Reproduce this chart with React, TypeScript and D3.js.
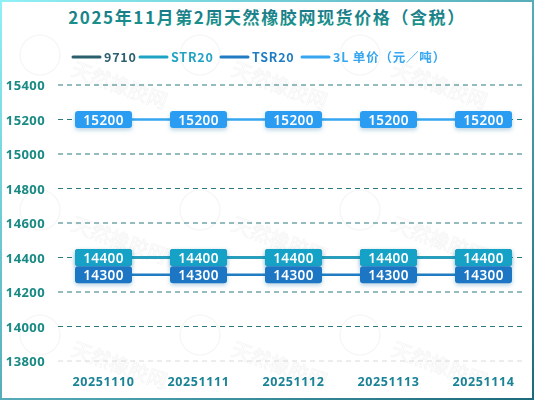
import { useEffect, useRef } from "react";
import * as d3 from "d3";

const dates = ["20251110", "20251111", "20251112", "20251113", "20251114"];
const s9710 = [14400, 14400, 14400, 14400, 14400];
const sStr20 = [14400, 14400, 14400, 14400, 14400];
const sTsr20 = [14300, 14300, 14300, 14300, 14300];
const s3L = [15200, 15200, 15200, 15200, 15200];
const yTicks = [13800, 14000, 14200, 14400, 14600, 14800, 15000, 15200, 15400];

const series = [
  { name: "9710", values: s9710, color: "#2b5f6e", box: "#2b6f80" },
  { name: "STR20", values: sStr20, color: "#1fa3c4", box: "#16a2c6" },
  { name: "TSR20", values: sTsr20, color: "#1f7cc2", box: "#1a76c4" },
  { name: "3L 单价（元／吨）", values: s3L, color: "#35a6ef", box: "#2a9cf2" },
];

export default function App() {
  const svgRef = useRef<SVGSVGElement | null>(null);
  const width = 534;
  const height = 400;

  useEffect(() => {
    document.body.style.margin = "0";
    if (!svgRef.current) return;
    const svg = d3.select(svgRef.current);
    svg.selectAll("*").remove();

    const defs = svg.append("defs");
    const border = defs
      .append("linearGradient")
      .attr("id", "border")
      .attr("x1", "0")
      .attr("y1", "0")
      .attr("x2", "1")
      .attr("y2", "1");
    border.append("stop").attr("offset", "0%").attr("stop-color", "#8ff0f5");
    border.append("stop").attr("offset", "100%").attr("stop-color", "#1d6a7c");

    const titleGrad = defs
      .append("linearGradient")
      .attr("id", "titleGrad")
      .attr("x1", "0")
      .attr("y1", "0")
      .attr("x2", "0")
      .attr("y2", "1");
    titleGrad.append("stop").attr("offset", "0%").attr("stop-color", "#1a6f86");
    titleGrad.append("stop").attr("offset", "100%").attr("stop-color", "#1a9a8e");

    const shadow = defs
      .append("filter")
      .attr("id", "shadow")
      .attr("x", "-30%")
      .attr("y", "-30%")
      .attr("width", "160%")
      .attr("height", "180%");
    shadow
      .append("feDropShadow")
      .attr("dx", 0)
      .attr("dy", 2)
      .attr("stdDeviation", 2)
      .attr("flood-color", "#1a6fa0")
      .attr("flood-opacity", 0.3);

    svg
      .append("rect")
      .attr("width", width)
      .attr("height", height)
      .attr("fill", "#ffffff");
    svg
      .append("rect")
      .attr("x", 1)
      .attr("y", 1)
      .attr("width", width - 2)
      .attr("height", height - 2)
      .attr("fill", "none")
      .attr("stroke", "url(#border)")
      .attr("stroke-width", 2);

    // faint watermark
    const wm = svg.append("g").attr("opacity", 0.06);
    [
      [60, 75],
      [220, 75],
      [380, 75],
      [60, 230],
      [220, 230],
      [380, 230],
      [60, 355],
      [220, 355],
      [380, 355],
    ].forEach(([x, y]) => {
      wm.append("circle")
        .attr("cx", x - 20)
        .attr("cy", y - 20)
        .attr("r", 20)
        .attr("fill", "none")
        .attr("stroke", "#555")
        .attr("stroke-width", 1.2);
      wm.append("text")
        .attr("x", x + 10)
        .attr("y", y)
        .attr("transform", `rotate(20,${x + 10},${y})`)
        .attr("font-family", "Noto Sans CJK SC")
        .attr("font-size", 20)
        .attr("fill", "none")
        .attr("stroke", "#555")
        .attr("stroke-width", 0.8)
        .text("天然橡胶网");
    });

    // title
    svg
      .append("text")
      .attr("x", 267)
      .attr("y", 24)
      .attr("text-anchor", "middle")
      .attr("font-family", "Noto Sans CJK SC")
      .attr("font-weight", 700)
      .attr("font-size", 17)
      .attr("letter-spacing", 1.6)
      .attr("fill", "url(#titleGrad)")
      .text("2025年11月第2周天然橡胶网现货价格（含税）");

    // legend
    const legendX = [73, 140, 221, 302];
    series.forEach((s, i) => {
      const lg = svg.append("g").attr("transform", `translate(${legendX[i]},57)`);
      lg.append("line")
        .attr("x1", 0)
        .attr("x2", 27)
        .attr("stroke", s.color)
        .attr("stroke-width", 3)
        .attr("stroke-linecap", "round");
      lg.append("text")
        .attr("x", 31)
        .attr("y", 4.5)
        .attr("font-family", "Noto Sans CJK SC")
        .attr("font-weight", 700)
        .attr("font-size", 12.5)
        .attr("letter-spacing", 0.8)
        .attr("fill", s.color)
        .text(s.name);
    });

    const x = d3.scaleBand().domain(dates).range([56, 531]);
    const y = d3.scaleLinear().domain([13800, 15400]).range([361, 85]);

    // grid
    const grid = svg.append("g");
    yTicks.forEach((t) => {
      grid
        .append("line")
        .attr("x1", 58)
        .attr("x2", 526)
        .attr("y1", y(t))
        .attr("y2", y(t))
        .attr("stroke", t === 13800 ? "#d8dcdc" : "#2a7a80")
        .attr("stroke-width", 1)
        .attr("stroke-dasharray", "5,4");
    });

    // y axis labels
    svg
      .append("g")
      .selectAll("text")
      .data(yTicks)
      .join("text")
      .attr("x", 45)
      .attr("y", (d) => y(d) + 5)
      .attr("text-anchor", "end")
      .attr("font-family", "Noto Sans")
      .attr("font-weight", 700)
      .attr("font-size", 13)
      .attr("letter-spacing", 0.4)
      .attr("fill", "#1a8a84")
      .text((d) => d);

    // x axis labels
    svg
      .append("g")
      .selectAll("text")
      .data(dates)
      .join("text")
      .attr("x", (d) => x(d)! + x.bandwidth() / 2)
      .attr("y", 386)
      .attr("text-anchor", "middle")
      .attr("font-family", "Noto Sans")
      .attr("font-weight", 700)
      .attr("font-size", 12.5)
      .attr("letter-spacing", 0.6)
      .attr("fill", "#1a8396")
      .text((d) => d);

    const cx = (d: string) => x(d)! + x.bandwidth() / 2;
    const line = d3
      .line<number>()
      .x((_, i) => cx(dates[i]))
      .y((v) => y(v));

    // lines
    series.forEach((s) => {
      svg
        .append("path")
        .attr("d", line(s.values)!)
        .attr("fill", "none")
        .attr("stroke", s.color)
        .attr("stroke-width", 2.6);
    });

    // labels (STR20 drawn over 9710)
    const boxW = 57;
    const boxH = 17;
    series.forEach((s) => {
      const g = svg.append("g");
      s.values.forEach((v, i) => {
        const px = cx(dates[i]);
        const py = y(v);
        g.append("rect")
          .attr("x", px - boxW / 2)
          .attr("y", py - boxH / 2)
          .attr("width", boxW)
          .attr("height", boxH)
          .attr("rx", 3)
          .attr("fill", s.box)
          .attr("filter", "url(#shadow)");
        g.append("text")
          .attr("x", px)
          .attr("y", py + 5)
          .attr("text-anchor", "middle")
          .attr("font-family", "Noto Sans")
          .attr("font-weight", 600)
          .attr("font-size", 13.5)
          .attr("letter-spacing", 0.4)
          .attr("fill", "#ffffff")
          .text(v);
      });
    });
  }, []);

  return <svg ref={svgRef} width={width} height={height} style={{ display: "block" }} />;
}
